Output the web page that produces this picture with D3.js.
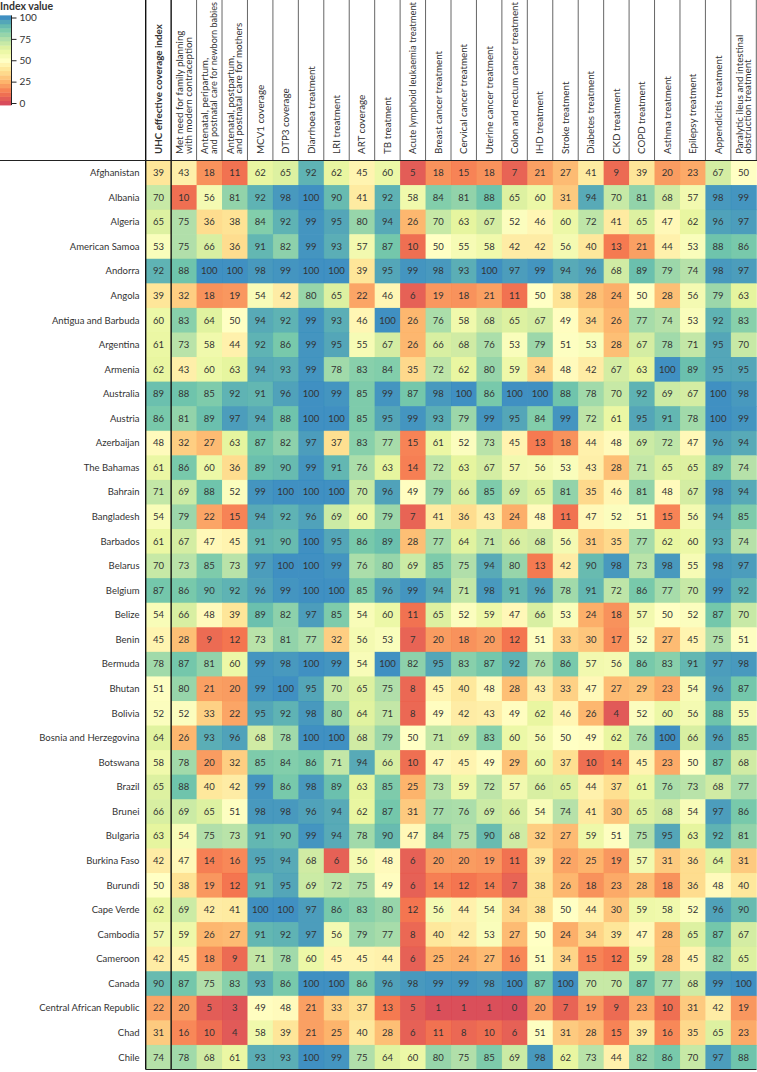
<!DOCTYPE html>
<html>
<head>
<meta charset="utf-8">
<script src="https://cdn.jsdelivr.net/npm/d3@7"></script>
<style>
  html, body { margin: 0; padding: 0; background: #fff; }
  svg { display: block; font-family: Lato, "Open Sans", sans-serif; }
</style>
</head>
<body>
<svg id="chart" width="757" height="1072"></svg>
<script>
// ---------- DATA ----------
const columns = [
  ["UHC effective coverage index"],
  ["Met need for family planning", "with modern contraception"],
  ["Antenatal, peripartum,", "and postnatal care for newborn babies"],
  ["Antenatal, postpartum,", "and postnatal care for mothers"],
  ["MCV1 coverage"],
  ["DTP3 coverage"],
  ["Diarrhoea treatment"],
  ["LRI treatment"],
  ["ART coverage"],
  ["TB treatment"],
  ["Acute lymphoid leukaemia treatment"],
  ["Breast cancer treatment"],
  ["Cervical cancer treatment"],
  ["Uterine cancer treatment"],
  ["Colon and rectum cancer treatment"],
  ["IHD treatment"],
  ["Stroke treatment"],
  ["Diabetes treatment"],
  ["CKD treatment"],
  ["COPD treatment"],
  ["Asthma treatment"],
  ["Epilepsy treatment"],
  ["Appendicitis treatment"],
  ["Paralytic ileus and intestinal", "obstruction treatment"]
];

const countries = [
  "Afghanistan", "Albania", "Algeria", "American Samoa", "Andorra", "Angola",
  "Antigua and Barbuda", "Argentina", "Armenia", "Australia", "Austria",
  "Azerbaijan", "The Bahamas", "Bahrain", "Bangladesh", "Barbados", "Belarus",
  "Belgium", "Belize", "Benin", "Bermuda", "Bhutan", "Bolivia",
  "Bosnia and Herzegovina", "Botswana", "Brazil", "Brunei", "Bulgaria",
  "Burkina Faso", "Burundi", "Cape Verde", "Cambodia", "Cameroon", "Canada",
  "Central African Republic", "Chad", "Chile"
];

// one row of values per country, in column order
const values = [
  [39,43,18,11,62,65,92,62,45,60,5,18,15,18,7,21,27,41,9,39,20,23,67,50],
  [70,10,56,81,92,98,100,90,41,92,58,84,81,88,65,60,31,94,70,81,68,57,98,99],
  [65,75,36,38,84,92,99,95,80,94,26,70,63,67,52,46,60,72,41,65,47,62,96,97],
  [53,75,66,36,91,82,99,93,57,87,10,50,55,58,42,42,56,40,13,21,44,53,88,86],
  [92,88,100,100,98,99,100,100,39,95,99,98,93,100,97,99,94,96,68,89,79,74,98,97],
  [39,32,18,19,54,42,80,65,22,46,6,19,18,21,11,50,38,28,24,50,28,56,79,63],
  [60,83,64,50,94,92,99,93,46,100,26,76,58,68,65,67,49,34,26,77,74,53,92,83],
  [61,73,58,44,92,86,99,95,55,67,26,66,68,76,53,79,51,53,28,67,78,71,95,70],
  [62,43,60,63,94,93,99,78,83,84,35,72,62,80,59,34,48,42,67,63,100,89,95,95],
  [89,88,85,92,91,96,100,99,85,99,87,98,100,86,100,100,88,78,70,92,69,67,100,98],
  [86,81,89,97,94,88,100,100,85,95,99,93,79,99,95,84,99,72,61,95,91,78,100,99],
  [48,32,27,63,87,82,97,37,83,77,15,61,52,73,45,13,18,44,48,69,72,47,96,94],
  [61,86,60,36,89,90,99,91,76,63,14,72,63,67,57,56,53,43,28,71,65,65,89,74],
  [71,69,88,52,99,100,100,100,70,96,49,79,66,85,69,65,81,35,46,81,48,67,98,94],
  [54,79,22,15,94,92,96,69,60,79,7,41,36,43,24,48,11,47,52,51,15,56,94,85],
  [61,67,47,45,91,90,100,95,86,89,28,77,64,71,66,68,56,31,35,77,62,60,93,74],
  [70,73,85,73,97,100,100,99,76,80,69,85,75,94,80,13,42,90,98,73,98,55,98,97],
  [87,86,90,92,96,99,100,100,85,96,99,94,71,98,91,96,78,91,72,86,77,70,99,92],
  [54,66,48,39,89,82,97,85,54,60,11,65,52,59,47,66,53,24,18,57,50,52,87,70],
  [45,28,9,12,73,81,77,32,56,53,7,20,18,20,12,51,33,30,17,52,27,45,75,51],
  [78,87,81,60,99,98,100,99,54,100,82,95,83,87,92,76,86,57,56,86,83,91,97,98],
  [51,80,21,20,99,100,95,70,65,75,8,45,40,48,28,43,33,47,27,29,23,54,96,87],
  [52,52,33,22,95,92,98,80,64,71,8,49,42,43,49,62,46,26,4,52,60,56,88,55],
  [64,26,93,96,68,78,100,100,68,79,50,71,69,83,60,56,50,49,62,76,100,66,96,85],
  [58,78,20,32,85,84,86,71,94,66,10,47,45,49,29,60,37,10,14,45,23,50,87,68],
  [65,88,40,42,99,86,98,89,63,85,25,73,59,72,57,66,65,44,37,61,76,73,68,77],
  [66,69,65,51,98,98,96,94,62,87,31,77,76,69,66,54,74,41,30,65,68,54,97,86],
  [63,54,75,73,91,90,99,94,78,90,47,84,75,90,68,32,27,59,51,75,95,63,92,81],
  [42,47,14,16,95,94,68,6,56,48,6,20,20,19,11,39,22,25,19,57,31,36,64,31],
  [50,38,19,12,91,95,69,72,75,49,6,14,12,14,7,38,26,18,23,28,18,36,48,40],
  [62,69,42,41,100,100,97,86,83,80,12,56,44,54,34,38,50,44,30,59,58,52,96,90],
  [57,59,26,27,91,92,97,56,79,77,8,40,42,53,27,50,24,34,39,47,28,65,87,67],
  [42,45,18,9,71,78,60,45,45,44,6,25,24,27,16,51,34,15,12,59,28,45,82,65],
  [90,87,75,83,93,86,100,100,86,96,98,99,99,98,100,87,100,70,70,87,77,68,99,100],
  [22,20,5,3,49,48,21,33,37,13,5,1,1,1,0,20,7,19,9,23,10,31,42,19],
  [31,16,10,4,58,39,21,25,40,28,6,11,8,10,6,51,31,28,15,39,16,35,65,23],
  [74,78,68,61,93,93,100,99,75,64,60,80,75,85,69,98,62,73,44,82,86,70,97,88]
];

const legendTicks = [0, 25, 50, 75, 100];
const legendTitle = "Index value";

// ---------- SCALES ----------
const colorStops = ["#d53e4f","#f46d43","#fdae61","#fee08b","#ffffbf","#e6f598","#abdda4","#66c2a5","#3288bd"];
const color = d3.scaleLinear()
  .domain(d3.range(colorStops.length).map(i => i * 100 / (colorStops.length - 1)))
  .range(colorStops)
  .interpolate(d3.interpolateRgb);

const gridLeft = 145.7, gridRight = 756.3, headerBottom = 160.5, gridBottom = 1069.5;
const x = d3.scaleBand().domain(d3.range(columns.length)).range([gridLeft, gridRight]).padding(0);
const y = d3.scaleBand().domain(countries).range([headerBottom, gridBottom]).padding(0);

const svg = d3.select("#chart");
const ink = "#333";

// ---------- CELLS ----------
const cells = [];
values.forEach((row, r) => row.forEach((v, c) => cells.push({ r, c, v })));

svg.append("g").selectAll("rect").data(cells).join("rect")
  .attr("x", d => x(d.c))
  .attr("y", d => y(countries[d.r]))
  .attr("width", x.bandwidth() + 0.5)
  .attr("height", y.bandwidth() + 0.5)
  .attr("fill", d => color(d.v))
  .attr("fill-opacity", 0.93);

svg.append("g").selectAll("text").data(cells).join("text")
  .attr("x", d => x(d.c) + x.bandwidth() / 2)
  .attr("y", d => y(countries[d.r]) + y.bandwidth() / 2)
  .attr("dy", "0.35em")
  .attr("text-anchor", "middle")
  .attr("font-size", 9.5)
  .attr("fill", ink)
  .text(d => d.v);

// ---------- ROW LABELS ----------
svg.append("g").selectAll("text").data(countries).join("text")
  .attr("x", 139.5)
  .attr("y", d => y(d) + y.bandwidth() / 2)
  .attr("dy", "0.35em")
  .attr("text-anchor", "end")
  .attr("font-size", 9.5)
  .attr("fill", ink)
  .text(d => d);

// ---------- HEADER ----------
const header = svg.append("g");
header.selectAll("line").data(d3.range(columns.length + 1)).join("line")
  .attr("x1", i => i < columns.length ? x(i) : gridRight)
  .attr("x2", i => i < columns.length ? x(i) : gridRight)
  .attr("y1", 0).attr("y2", headerBottom)
  .attr("stroke", i => i <= 1 ? "#111" : "#555")
  .attr("stroke-width", i => i <= 1 ? 1.4 : 0.9);

const maxLabelLen = 152;
columns.forEach((lines, i) => {
  const cx = x(i) + x.bandwidth() / 2;
  const g = header.append("g").attr("transform", `translate(${cx},154) rotate(-90)`);
  const spacing = 8.6;
  lines.forEach((ln, k) => {
    const t = g.append("text")
      .attr("x", 0)
      .attr("y", (k - (lines.length - 1) / 2) * spacing)
      .attr("dy", "0.35em")
      .attr("font-size", 9.8)
      .attr("font-weight", i === 0 ? "bold" : "normal")
      .attr("fill", ink)
      .text(ln);
    const len = t.node().getComputedTextLength();
    if (len > maxLabelLen) {
      t.attr("textLength", maxLabelLen).attr("lengthAdjust", "spacingAndGlyphs");
    }
  });
});

svg.append("line").attr("x1", 0).attr("x2", 757).attr("y1", headerBottom).attr("y2", headerBottom)
  .attr("stroke", "#222").attr("stroke-width", 1.2);
[gridLeft, x(1)].forEach(xx => {
  svg.append("line").attr("x1", xx).attr("x2", xx).attr("y1", headerBottom).attr("y2", gridBottom)
    .attr("stroke", "#111").attr("stroke-width", 1.4);
});
svg.append("line").attr("x1", gridLeft).attr("x2", gridRight).attr("y1", gridBottom).attr("y2", gridBottom)
  .attr("stroke", "#222").attr("stroke-width", 1.2);

// ---------- LEGEND ----------
const legend = svg.append("g");
legend.append("text").attr("x", 0).attr("y", 10)
  .attr("font-size", 10.5).attr("font-weight", "bold").attr("fill", ink)
  .text(legendTitle);

const ly = d3.scaleLinear().domain([0, 100]).range([103, 17.5]);
const steps = d3.range(-2.5, 102.5, 5);
legend.selectAll("rect").data(steps).join("rect")
  .attr("x", 0)
  .attr("y", d => ly(Math.min(d + 5, 102.5)))
  .attr("width", 11)
  .attr("height", d => ly(d) - ly(Math.min(d + 5, 102.5)) + 0.3)
  .attr("fill", d => color(Math.max(0, Math.min(100, d + 2.5))))
  .attr("fill-opacity", 0.93);

const axis = d3.axisRight(ly).tickValues(legendTicks).tickSize(5).tickPadding(3);
const axG = legend.append("g").attr("transform", "translate(11.5,0)").call(axis);
axG.select(".domain").attr("stroke", "#222").attr("d", `M0,${ly(102.5)}V${ly(-2.5)}`);
axG.selectAll(".tick line").attr("stroke", "#222");
axG.selectAll(".tick text").attr("font-size", 10).attr("fill", ink).attr("font-family", "Lato, 'Open Sans', sans-serif");
</script>
</body>
</html>
